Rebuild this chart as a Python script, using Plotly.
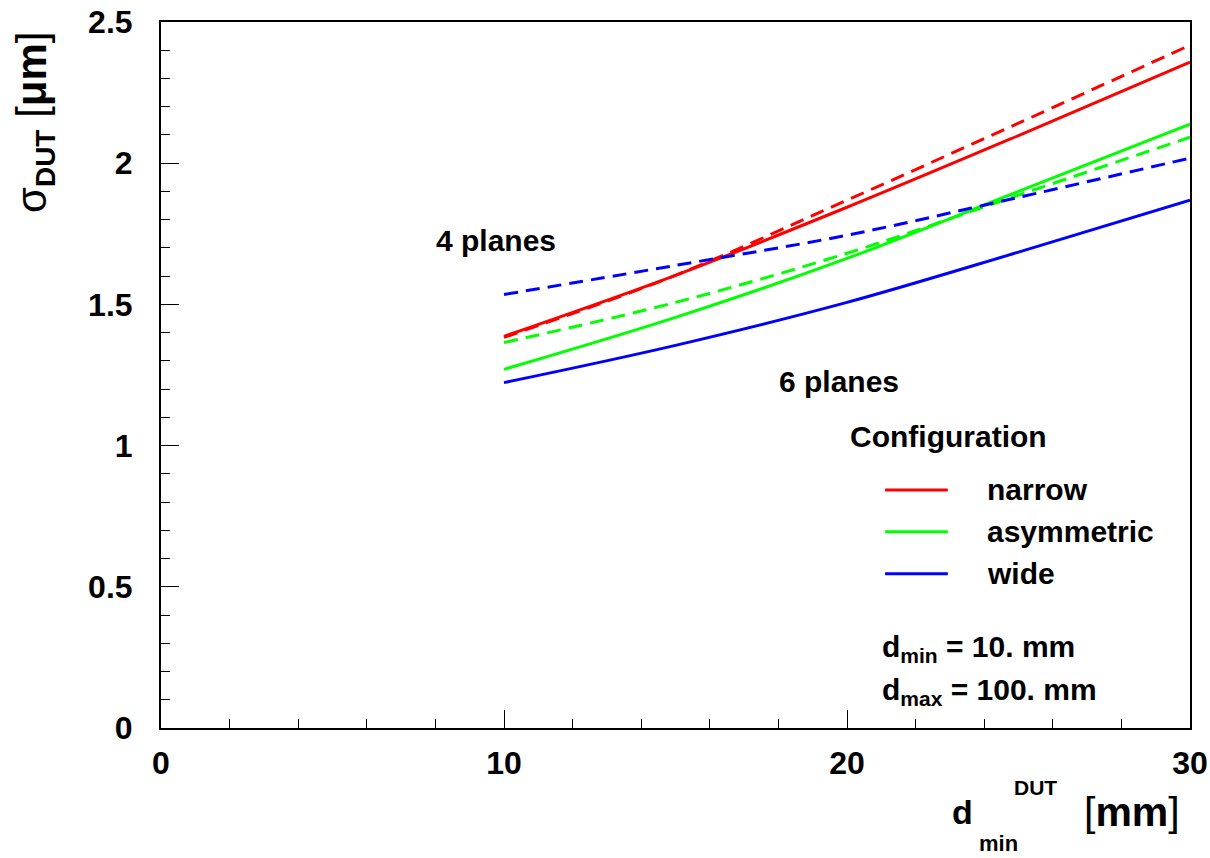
import plotly.graph_objects as go

# distance of DUT from nearest plane [mm]
d_dut = [10, 15, 20, 25, 30]

# resolution sigma_DUT [um], 6 planes (solid) and 4 planes (dashed)
narrow_6 = [1.387, 1.603, 1.844, 2.098, 2.358]
asym_6 = [1.270, 1.454, 1.663, 1.900, 2.138]
wide_6 = [1.223, 1.355, 1.507, 1.685, 1.869]

narrow_4 = [1.383, 1.603, 1.869, 2.142, 2.418]
asym_4 = [1.365, 1.507, 1.681, 1.887, 2.092]
wide_4 = [1.535, 1.638, 1.745, 1.879, 2.018]

configs = ["narrow", "asymmetric", "wide"]
colors = ["#ff0000", "#00ff00", "#0000ff"]

FONT = "Liberation Sans"

fig = go.Figure()
for name, col, y6, y4 in zip(configs, colors, [narrow_6, asym_6, wide_6], [narrow_4, asym_4, wide_4]):
    fig.add_trace(go.Scatter(x=d_dut, y=y4, mode="lines", name=name + " (4 planes)",
                             line=dict(color=col, width=3, dash="14px,8px", shape="spline", smoothing=1.0),
                             showlegend=False))
    fig.add_trace(go.Scatter(x=d_dut, y=y6, mode="lines", name=name,
                             line=dict(color=col, width=3, shape="spline", smoothing=1.0),
                             showlegend=False))

ann = []
def txt(x, y, s, size=30, xanchor="center", yanchor="middle", weight="bold"):
    ann.append(dict(x=x, y=y, xref="x", yref="y", text=s, showarrow=False,
                    xanchor=xanchor, yanchor=yanchor,
                    font=dict(family=FONT, size=size, color="black", weight=weight)))

txt(9.77, 1.726, "4 planes")
txt(19.77, 1.227, "6 planes")
txt(20.03, 1.031, "Configuration", xanchor="left")

leg_y = [0.843, 0.695, 0.546]
for name, col, ly in zip(configs, colors, leg_y):
    fig.add_shape(type="line", xref="x", yref="y", x0=21.11, x1=22.94, y0=ly, y1=ly,
                  line=dict(color=col, width=3))
    txt(24.02, ly, name, xanchor="left")

txt(20.96, 0.280, "d<sub>min</sub> = 10. mm", size=30, xanchor="left")
txt(20.96, 0.131, "d<sub>max</sub> = 100. mm", size=30, xanchor="left")

# paper-coordinate annotations for axis titles (positions given in page pixels)
def ptxt(px, py, s, size, weight="bold", xanchor="center", yanchor="middle", angle=0):
    ann.append(dict(x=(px - 161) / 1029, y=(728 - py) / 706, xref="paper", yref="paper",
                    text=s, showarrow=False, xanchor=xanchor, yanchor=yanchor, textangle=angle,
                    font=dict(family=FONT, size=size, color="black", weight=weight)))

# x-axis title: d^{DUT}_{min} [mm]
ptxt(962, 812, "d", 34)
ptxt(1035, 787, "DUT", 21)
ptxt(998, 843, "min", 22)
ptxt(1132, 812, "[<b>mm</b>]", 41, weight="normal")

# y-axis title: sigma_DUT [um]
ptxt(35, 122, "σ<sub><b><span style='font-size:28px'>DUT</span></b></sub> [<b>μm</b>]", 42,
     weight="normal", angle=-90)

fig.update_layout(annotations=ann)

axis_common = dict(showline=True, linecolor="black", linewidth=2, mirror=True,
                   ticks="inside", ticklen=18, tickwidth=1, tickcolor="black",
                   showgrid=False, zeroline=False, automargin=False,
                   ticklabeloverflow="allow",
                   tickfont=dict(family=FONT, size=32, color="black", weight="bold"))

fig.update_xaxes(range=[0, 30], dtick=10, tick0=0, ticklabelstandoff=6,
                 minor=dict(dtick=2, ticks="inside", ticklen=9, tickcolor="black", showgrid=False),
                 **axis_common)
fig.update_yaxes(range=[0, 2.5], dtick=0.5, tick0=0, ticklabelstandoff=20,
                 minor=dict(dtick=0.1, ticks="inside", ticklen=9, tickcolor="black", showgrid=False),
                 **axis_common)

fig.update_layout(width=1210, height=858, plot_bgcolor="white", paper_bgcolor="white",
                  margin=dict(l=161, r=20, t=22, b=130), showlegend=False)

fig.write_html("out.html", config={"displayModeBar": False},
               post_script="document.body.style.margin='0';document.body.style.overflow='hidden';")
